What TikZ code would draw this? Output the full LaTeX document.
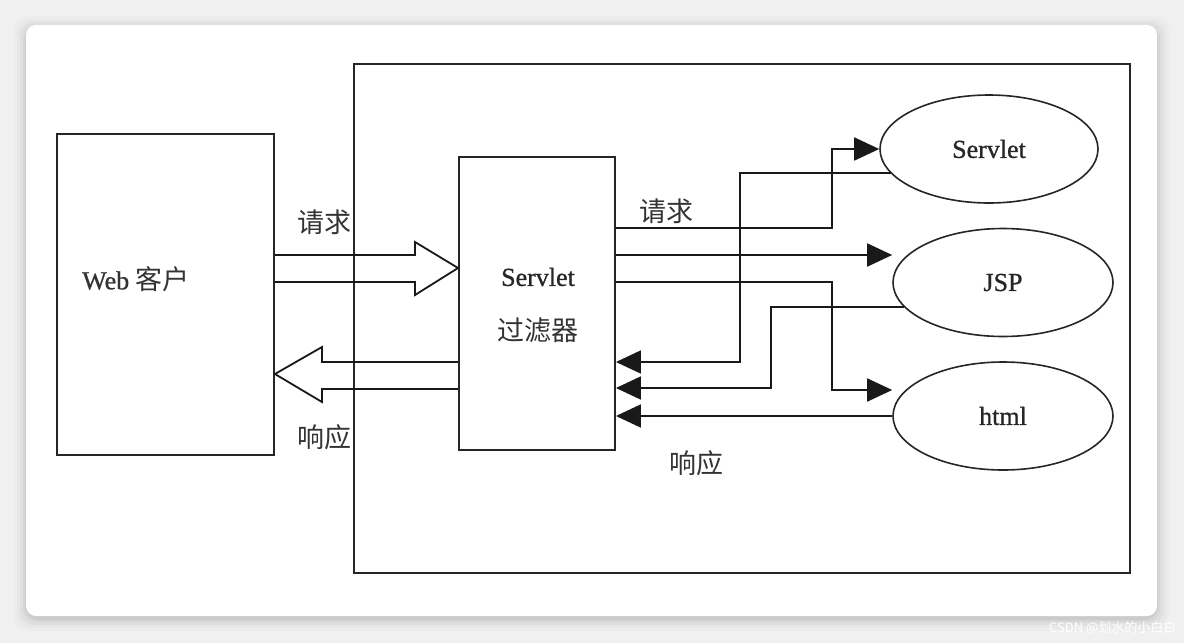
\documentclass[tikz,border=0pt]{standalone}
\usepackage{fontspec}
\setmainfont[FakeBold=0.8]{Liberation Serif}
\newfontfamily\cjk{Noto Sans CJK SC}
\usetikzlibrary{shapes.geometric,arrows.meta}
\begin{document}
\begin{tikzpicture}[x=1pt,y=-1pt,
  line/.style={draw=black!90, line width=1.8pt},
  tip/.style={line, -{Triangle[length=25pt,width=23pt]}},
  box/.style={draw=black!85, line width=1.9pt, inner sep=0pt},
  oval/.style={ellipse, draw=black!85, line width=1.6pt, inner sep=0pt, minimum width=218pt, minimum height=108pt, text=black!85, font=\fontsize{26}{30}\selectfont},
  lbl/.style={font=\cjk\fontsize{27}{30}\selectfont, text=black!80, inner sep=0pt},
  lat/.style={font=\fontsize{26}{30}\selectfont, text=black!85, inner sep=0pt},
]
% background and card
\fill[gray!12] (0,0) rectangle (1184,643);
\foreach \i/\o in {12/0.015, 9/0.02, 6/0.03, 3/0.04, 1/0.05}
  \fill[black, opacity=\o, rounded corners=14pt] (26-\i,25-\i+3) rectangle (1157+\i,616+\i+3);
\fill[white, rounded corners=10pt] (26,25) rectangle (1157,616);
\useasboundingbox (0,0) rectangle (1184,643);

% frames and boxes
\node[box, line width=1.5pt, minimum width=776pt, minimum height=509pt] (frame) at (742,318.5) {};
\node[box, minimum width=217pt, minimum height=321pt] (web) at (165.5,294.5) {};
\node[lbl, anchor=west] (webtxt) at (82,279) {{\rmfamily\fontsize{26}{30}\selectfont Web} 客户};
\node[box, minimum width=156pt, minimum height=293pt] (filter) at (537,303.5) {};
\node[lat] (ftxt1) at (538,277) {Servlet};
\node[lbl] (ftxt2) at (538,330) {过滤器};

% targets
\node[oval] (servlet) at (989,149) {Servlet};
\node[oval, minimum width=220pt] (jsp) at (1003,282.5) {JSP};
\node[oval, minimum width=220pt] (html) at (1003,416) {html};

% hollow arrows
\draw[line] (web.east |- 0,255) -- (415,255) -- (415,242) -- (filter.west |- 0,268) -- (415,295) -- (415,282) -- (web.east |- 0,282);
\draw[line] (filter.west |- 0,362) -- (322,362) -- (322,347) -- (web.east |- 0,374) -- (322,402) -- (322,389) -- (filter.west |- 0,389);

% request lines
\draw[tip] (filter.east |- 0,228) -| (832,149) -- (servlet.west);
\draw[tip] (filter.east |- 0,255) -- (jsp.west |- 0,255);
\draw[tip] (filter.east |- 0,282) -| (832,390) -- (html.west |- 0,390);
% response lines
\draw[tip] (servlet.194 |- 0,173) -| (740,362) -- (filter.east |- 0,362);
\draw[tip] (jsp.194 |- 0,307) -| (771,388) -- (filter.east |- 0,388);
\draw[tip] (html.west) -- (filter.east |- html.west);

% labels
\node[lbl] (req1) at (324,222) {请求};
\node[lbl] (resp1) at (324,437) {响应};
\node[lbl] (req2) at (666,211) {请求};
\node[lbl] (resp2) at (696,463) {响应};

\node[font=\cjk\fontsize{13}{15}\selectfont, text=white, anchor=east] (wm) at (1180,628) {CSDN @划水的小白白};
\end{tikzpicture}
\end{document}
